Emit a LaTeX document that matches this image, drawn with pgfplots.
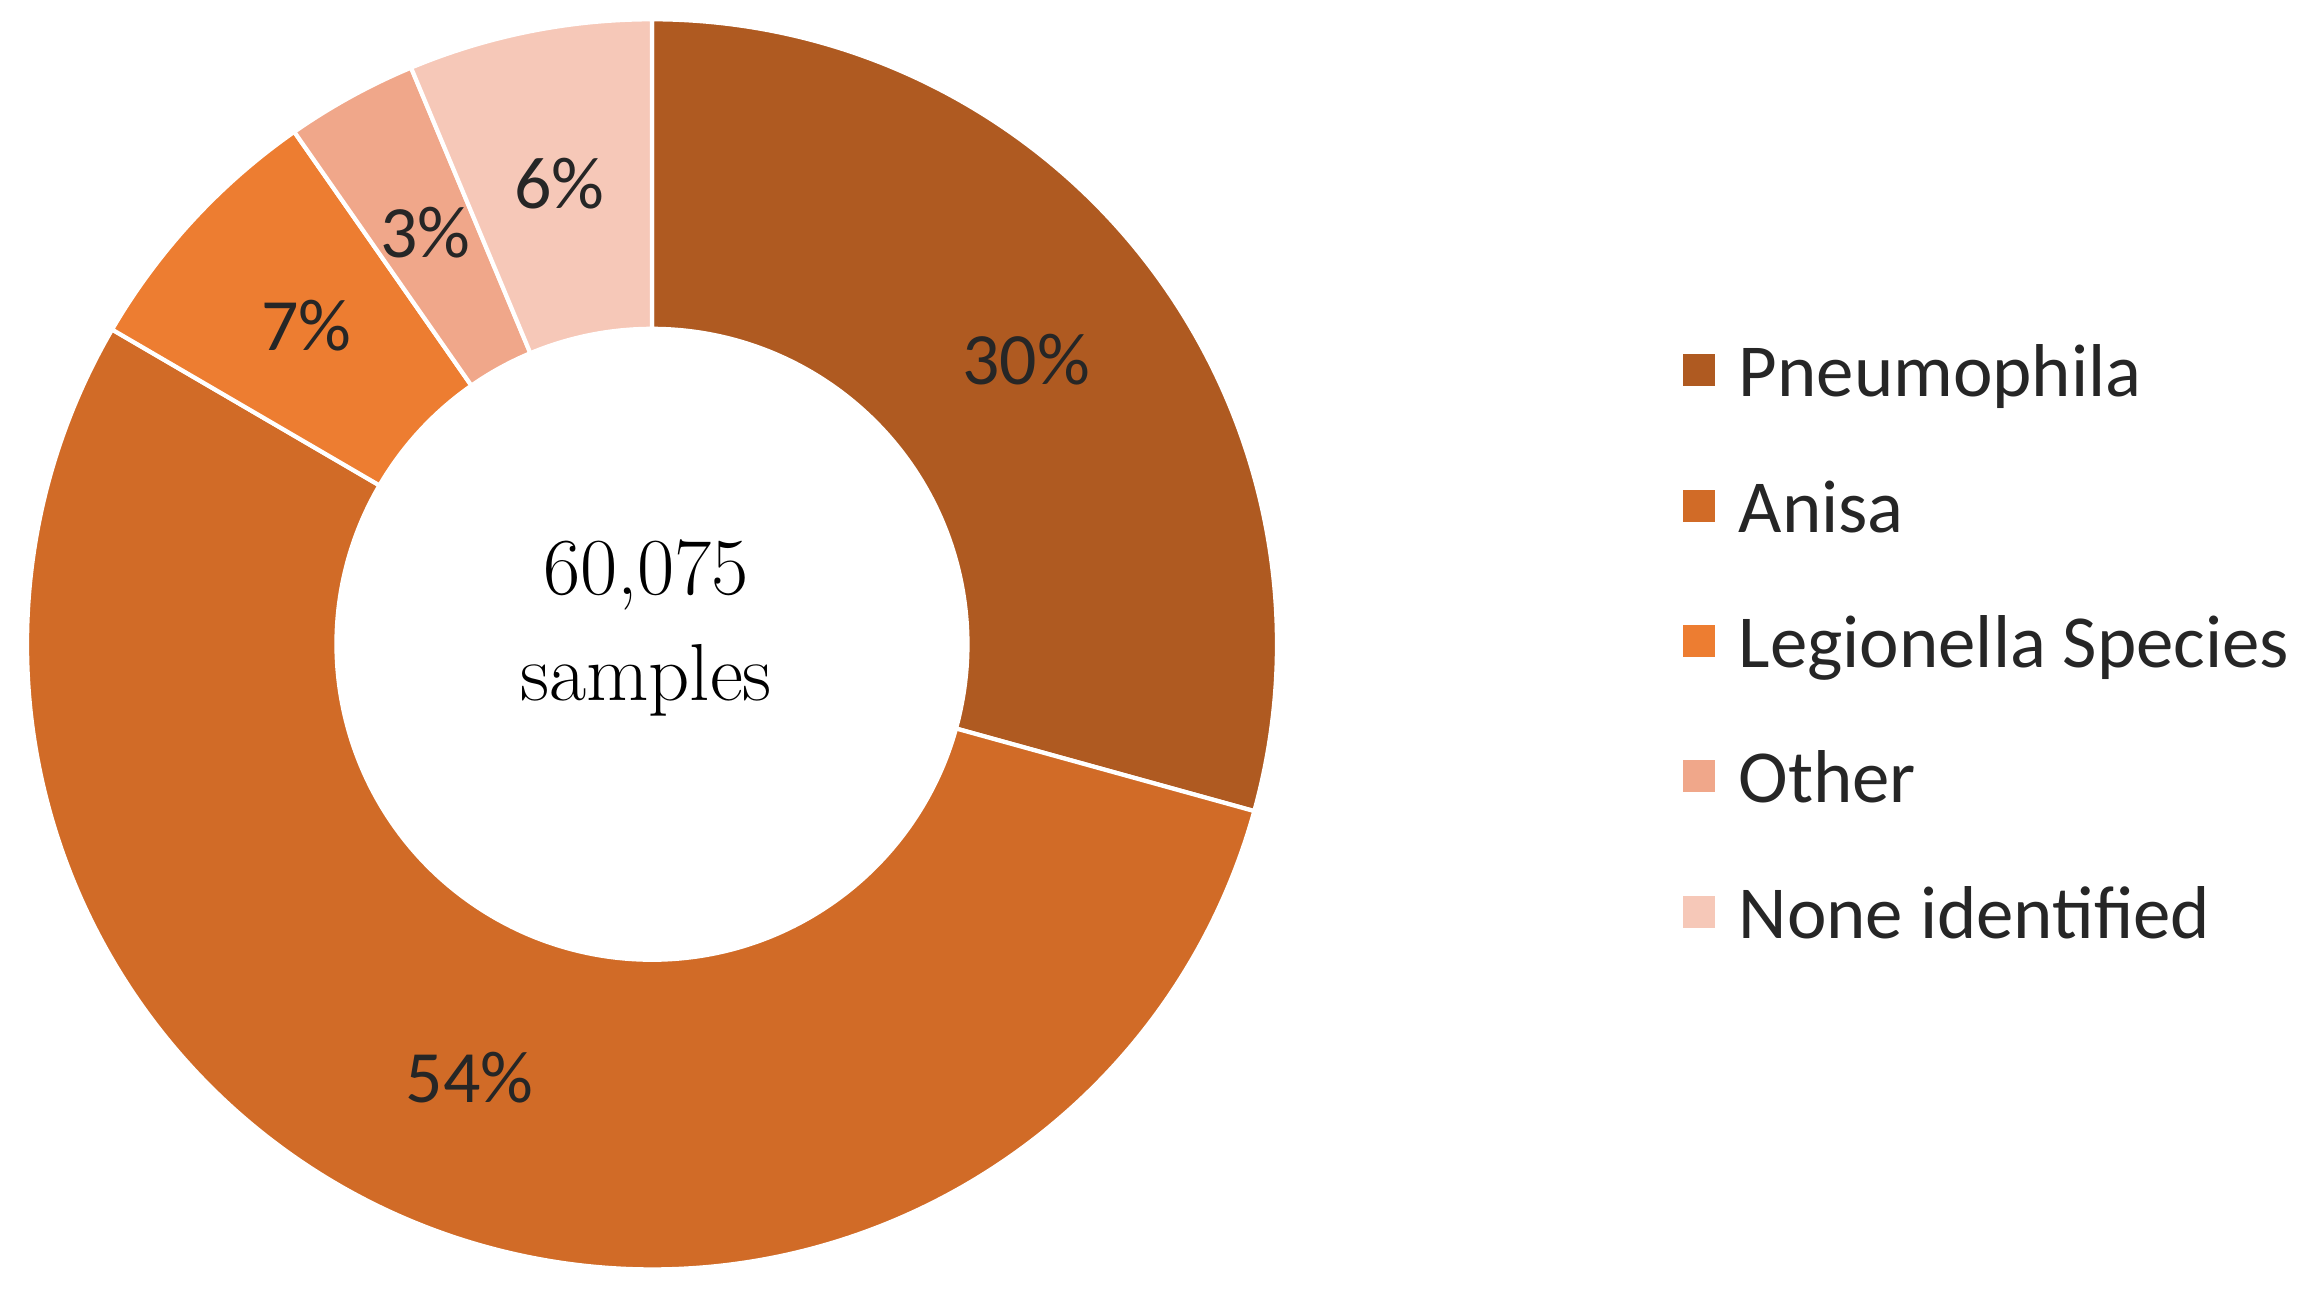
\documentclass[border=0pt]{standalone}
\usepackage{pgfplots}
\pgfplotsset{compat=1.18}
\usepackage{pgfplotstable}
\usepackage{fontspec}
\newfontfamily\carlito{Carlito}
\definecolor{c0}{HTML}{AF5A21}
\definecolor{c1}{HTML}{D16B27}
\definecolor{c2}{HTML}{ED7D31}
\definecolor{c3}{HTML}{F0A78A}
\definecolor{c4}{HTML}{F6C8B8}
\definecolor{lbl}{HTML}{262626}

\pgfplotstableread{
name value pct
Pneumophila 29.3 30
Anisa 54.1 54
Legionella 6.9 7
Other 3.4 3
None 6.3 6
}\donutdata

\pgfplotsset{legend image code/.code={\fill[#1, draw=none] (0cm,-0.07cm) rectangle (0.32cm,0.25cm);}}

\def\cx{6.52}
\def\cy{6.507}
\def\Ro{6.25}
\def\Ri{3.155}
\def\Rm{4.70}

\begin{document}
\begin{tikzpicture}
\def\cum{0}
\pgfplotsforeachungrouped \i in {0,...,4}{%
  \pgfplotstablegetelem{\i}{value}\of\donutdata
  \let\v\pgfplotsretval
  \pgfplotstablegetelem{\i}{pct}\of\donutdata
  \expandafter\xdef\csname lb\i\endcsname{\pgfplotsretval}%
  \pgfmathsetmacro{\sa}{90-3.6*\cum}%
  \pgfmathsetmacro{\newcum}{\cum+\v}%
  \pgfmathsetmacro{\ea}{90-3.6*\newcum}%
  \pgfmathsetmacro{\ma}{(\sa+\ea)/2}%
  \expandafter\xdef\csname sa\i\endcsname{\sa}%
  \expandafter\xdef\csname ea\i\endcsname{\ea}%
  \expandafter\xdef\csname ma\i\endcsname{\ma}%
  \xdef\cum{\newcum}%
}
\begin{axis}[
  x=1cm, y=1cm,
  xmin=0, xmax=23.17, ymin=0, ymax=12.95,
  hide axis, clip=false,
  legend style={draw=none, fill=none, at={(axis cs:16.82,6.45)}, anchor=west,
    font=\carlito\fontsize{21.3}{25}\selectfont, text=lbl,
    row sep=0.65cm, column sep=0.24cm, inner sep=0pt,
    nodes={inner sep=0pt, text height=15pt, text depth=5pt}},
  legend cell align=left,
]
\pgfplotsinvokeforeach{0,...,4}{
  \fill[c#1, draw=white, line width=1.2pt]
    (axis cs:{\cx+\Ro*cos(\csname sa#1\endcsname)},{\cy+\Ro*sin(\csname sa#1\endcsname)})
    arc[start angle=\csname sa#1\endcsname, end angle=\csname ea#1\endcsname, radius=\Ro]
    -- (axis cs:{\cx+\Ri*cos(\csname ea#1\endcsname)},{\cy+\Ri*sin(\csname ea#1\endcsname)})
    arc[start angle=\csname ea#1\endcsname, end angle=\csname sa#1\endcsname, radius=\Ri]
    -- cycle;
}
\pgfplotsinvokeforeach{0,...,4}{
  \node[font=\carlito\fontsize{21}{25}\selectfont, text=lbl]
    at (axis cs:{\cx+\Rm*cos(\csname ma#1\endcsname)},{\cy+\Rm*sin(\csname ma#1\endcsname)})
    {\csname lb#1\endcsname\%};
}
\node[anchor=base, font=\fontsize{23}{27}\selectfont] at (axis cs:6.46,7.01) {60,075};
\node[anchor=base, font=\fontsize{23}{27}\selectfont] at (axis cs:6.46,5.95) {samples};
\addlegendimage{fill=c0}
\addlegendentry{Pneumophila}
\addlegendimage{fill=c1}
\addlegendentry{Anisa}
\addlegendimage{fill=c2}
\addlegendentry{Legionella Species}
\addlegendimage{fill=c3}
\addlegendentry{Other}
\addlegendimage{fill=c4}
\addlegendentry{None identified}
\end{axis}
\pgfresetboundingbox
\path (0,0) rectangle (23.17,12.95);
\end{tikzpicture}
\end{document}
